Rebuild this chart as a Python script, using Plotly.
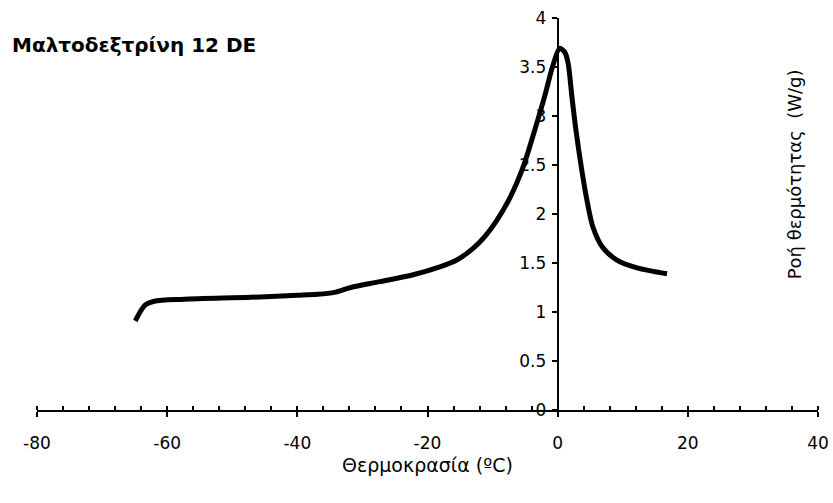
import plotly.graph_objects as go

temperature = [-64.9, -63.4, -62.0, -57.4, -47.2, -40.0, -36.9, -34.3, -31.8, -27.3, -22.2,
               -18.1, -15.5, -13.0, -11.2, -9.4, -7.3, -5.3, -3.6, -2.0, -0.8, 0.3, 1.1, 1.6,
               2.2, 2.8, 3.7, 4.5, 5.4, 6.9, 9.1, 12.2, 16.8]
heat_flow = [0.91, 1.07, 1.11, 1.13, 1.15, 1.17, 1.18, 1.20, 1.25, 1.31, 1.38,
             1.46, 1.53, 1.65, 1.77, 1.93, 2.17, 2.48, 2.84, 3.20, 3.50, 3.69, 3.65, 3.54,
             3.19, 2.86, 2.45, 2.14, 1.87, 1.66, 1.53, 1.45, 1.39]

x_ticks = [-80, -60, -40, -20, 0, 20, 40]
y_ticks = [0, 0.5, 1, 1.5, 2, 2.5, 3, 3.5, 4]

FONT = "DejaVu Sans"

fig = go.Figure()
fig.add_trace(go.Scatter(
    x=temperature, y=heat_flow, mode="lines",
    line=dict(color="black", width=5, shape="spline", smoothing=0.8),
    hoverinfo="skip", showlegend=False,
))

fig.update_layout(
    width=833, height=503,
    margin=dict(l=37, r=15, t=18, b=93),
    paper_bgcolor="white", plot_bgcolor="white",
    font=dict(family=FONT, size=17, color="black"),
    xaxis=dict(
        range=[-80, 40], tickvals=x_ticks, ticktext=[str(v) for v in x_ticks],
        showgrid=False, zeroline=False, showline=True, linecolor="black", linewidth=2,
        ticks="outside", ticklen=5, tickwidth=1.5, tickcolor="black",
        minor=dict(dtick=4, tick0=0, ticks="inside", ticklen=4, tickwidth=1.5, tickcolor="black"),
        ticklabelstandoff=12, automargin=False,
        fixedrange=True,
    ),
    yaxis=dict(
        range=[0, 4], tickvals=y_ticks, ticktext=[f"{v:g}" for v in y_ticks],
        showgrid=False, zeroline=False, showline=True, linecolor="black", linewidth=2,
        ticks="outside", ticklen=5, tickwidth=1.5, tickcolor="black",
        anchor="free", position=80 / 120, ticklabelstandoff=2, automargin=False,
        fixedrange=True,
    ),
    annotations=[
        dict(text="<b>Μαλτοδεξτρίνη 12 DE</b>", x=-0.0346, y=0.931, xref="paper", yref="paper",
             xanchor="left", yanchor="middle", showarrow=False, font=dict(size=20)),
        dict(text="Ροή θερμότητας  (W/g)", x=0.97, y=0.6, xref="paper", yref="paper",
             xanchor="center", yanchor="middle", textangle=-90, showarrow=False,
             font=dict(size=18)),
        dict(text="Θερμοκρασία (ºC)", x=0.5, y=-0.14, xref="paper", yref="paper",
             xanchor="center", yanchor="middle", showarrow=False, font=dict(size=19)),
    ],
)

# remove the page's default body margin so the 833x503 figure fills the window exactly
fig.write_html(
    "out.html",
    config={"displayModeBar": False},
    post_script="document.body.style.margin='0';document.body.style.overflow='hidden';",
)
